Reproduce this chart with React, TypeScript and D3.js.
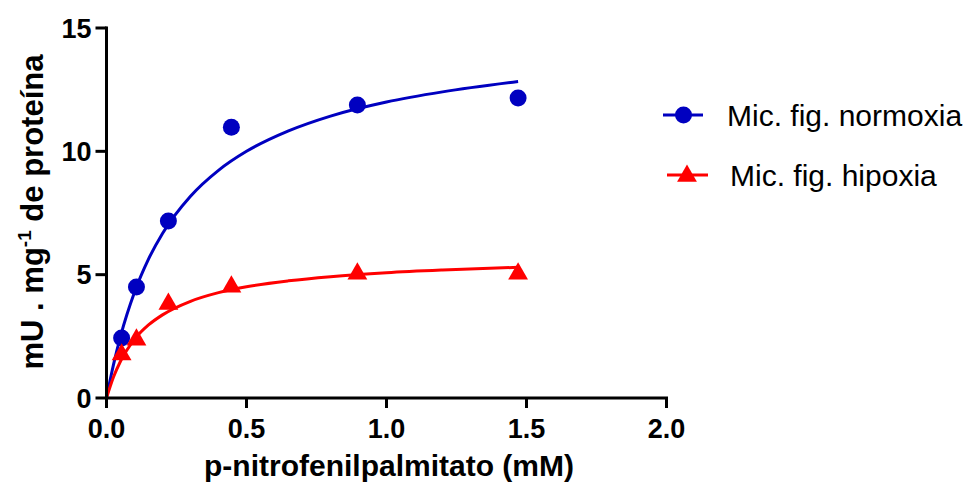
import React from 'react';
import * as d3 from 'd3';

// measured points
const substrate = [0.054, 0.107, 0.221, 0.446, 0.896, 1.47];
const normoxia = [2.43, 4.5, 7.18, 10.98, 11.88, 12.16];
const hipoxia = [1.8, 2.4, 3.85, 4.55, 5.08, 5.08];

// fitted curves
const curveX = [0, 0.025, 0.05, 0.1, 0.15, 0.2, 0.3, 0.4, 0.5, 0.65, 0.8, 1.0, 1.2, 1.47];
const normoxiaFit = [0, 1.35, 2.5, 4.29, 5.63, 6.67, 8.18, 9.23, 10.0, 10.83, 11.43, 12.0, 12.41, 12.83];
const hipoxiaFit = [0, 0.85, 1.49, 2.38, 2.96, 3.37, 3.92, 4.27, 4.51, 4.75, 4.92, 5.08, 5.19, 5.3];

const xTicks = [0, 0.5, 1.0, 1.5, 2.0];
const yTicks = [0, 5, 10, 15];

const W = 970;
const H = 484;
const FONT = '"Liberation Sans", Arial, sans-serif';
const BLUE = '#0000c0';
const RED = '#ff0000';

const App = () => {
  const x = d3.scaleLinear().domain([0, 2]).range([106.5, 666.5]);
  const y = d3.scaleLinear().domain([0, 15]).range([398, 28]);

  const line = d3.line<number>()
    .x((d, i) => x(curveX[i]))
    .y(d => y(d))
    .curve(d3.curveMonotoneX);

  const tri = d3.symbol().type(d3.symbolTriangle).size(170)();

  return (
    <svg width={W} height={H} style={{ display: 'block', position: 'absolute', left: 0, top: 0 }}>
      <rect width={W} height={H} fill="#fff" />

      {/* curves */}
      <path d={line(normoxiaFit) || ''} fill="none" stroke={BLUE} strokeWidth={3} />
      <path d={line(hipoxiaFit) || ''} fill="none" stroke={RED} strokeWidth={3} />

      {/* points */}
      {substrate.map((s, i) => (
        <circle key={'n' + i} cx={x(s)} cy={y(normoxia[i])} r={8.5} fill={BLUE} />
      ))}
      {substrate.map((s, i) => (
        <path key={'h' + i} d={tri || ''} transform={`translate(${x(s)},${y(hipoxia[i]) + 1})`} fill={RED} />
      ))}

      {/* axes */}
      <line x1={x(0)} x2={x(2) + 1.5} y1={y(0)} y2={y(0)} stroke="#000" strokeWidth={3} />
      <line x1={x(0)} x2={x(0)} y1={y(0) + 1.5} y2={y(15) - 1.5} stroke="#000" strokeWidth={3} />

      {xTicks.map(t => (
        <g key={'xt' + t}>
          <line x1={x(t)} x2={x(t)} y1={y(0)} y2={y(0) + 10} stroke="#000" strokeWidth={3} />
          <text x={x(t)} y={438} textAnchor="middle" fontFamily={FONT} fontWeight="bold" fontSize={27}>
            {t.toFixed(1)}
          </text>
        </g>
      ))}
      {yTicks.map(t => (
        <g key={'yt' + t}>
          <line x1={x(0) - 11} x2={x(0)} y1={y(t)} y2={y(t)} stroke="#000" strokeWidth={3} />
          <text x={x(0) - 15} y={y(t) + 9.5} textAnchor="end" fontFamily={FONT} fontWeight="bold" fontSize={27}>
            {t}
          </text>
        </g>
      ))}

      {/* axis titles */}
      <text x={389} y={476} textAnchor="middle" fontFamily={FONT} fontWeight="bold" fontSize={30}>
        p-nitrofenilpalmitato (mM)
      </text>
      <text transform="translate(43,212) rotate(-90)" textAnchor="middle" fontFamily={FONT} fontWeight="bold" fontSize={31}>
        mU . mg<tspan dy={-12} fontSize={19}>-1</tspan><tspan dy={12}> de proteína</tspan>
      </text>

      {/* legend */}
      <line x1={663} x2={703} y1={115} y2={115} stroke={BLUE} strokeWidth={3} />
      <circle cx={683.5} cy={115} r={8.5} fill={BLUE} />
      <text x={727} y={126} fontFamily={FONT} fontSize={30}>Mic. fig. normoxia</text>

      <line x1={667} x2={708} y1={175} y2={175} stroke={RED} strokeWidth={3} />
      <path d={tri || ''} transform="translate(687,176)" fill={RED} />
      <text x={730} y={186} fontFamily={FONT} fontSize={30}>Mic. fig. hipoxia</text>
    </svg>
  );
};

export default App;
